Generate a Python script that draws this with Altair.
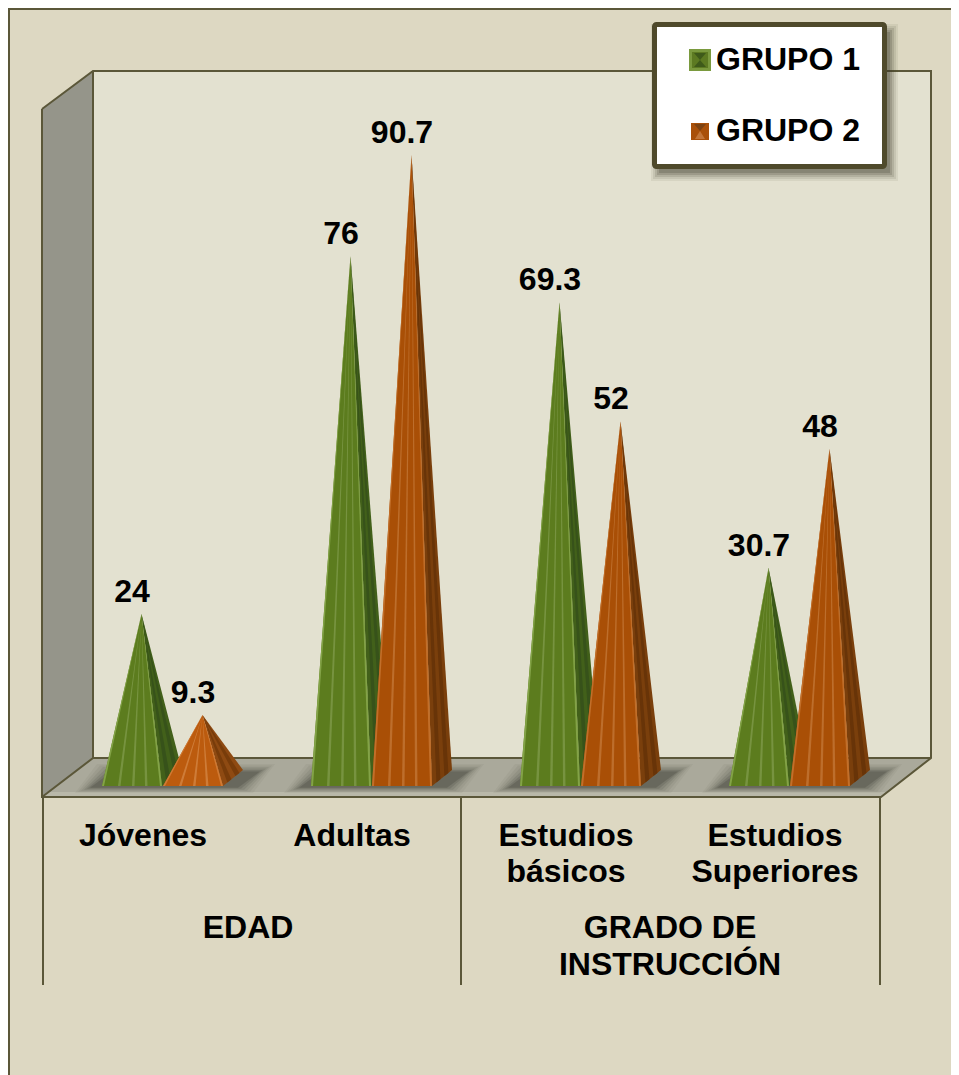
import altair as alt
import pandas as pd

categories = ["Jóvenes", "Adultas", "Estudios básicos", "Estudios Superiores"]
grupo_1 = [24, 76, 69.3, 30.7]
grupo_2 = [9.3, 90.7, 52, 48]
group_names = ["GRUPO 1", "GRUPO 2"]
category_lines = [["Jóvenes"], ["Adultas"], ["Estudios", "básicos"], ["Estudios", "Superiores"]]
parent_lines = [["EDAD"], ["GRADO DE", "INSTRUCCIÓN"]]

PX = 6.88
ZERO = 779.0
W, H = 943, 1067


def v(py):
    return (ZERO - py) / PX


def envelope(shape_id, pts, color, op=1.0):
    xs = sorted({p[0] for p in pts})
    rows = []
    n = len(pts)
    for x in xs:
        ys = []
        for i in range(n):
            (x0, y0), (x1, y1) = pts[i], pts[(i + 1) % n]
            if min(x0, x1) <= x <= max(x0, x1):
                if x0 == x1:
                    ys += [y0, y1]
                else:
                    ys.append(y0 + (y1 - y0) * (x - x0) / (x1 - x0))
        rows.append(dict(id=shape_id, x=x, y=max(ys), y2=min(ys), c=color, o=op))
    return rows


def P(*pts):
    return [(x, v(y)) for x, y in pts]


INK = "#5B5739"
back = []
back += envelope("a_back", P((93, 71), (931, 71), (931, 758), (93, 758)), "#E3E1D0")
back += envelope("b_left", P((42, 109), (93, 71), (93, 758), (42, 797)), "#95958A")
back += envelope("c_floor", P((42, 797), (93, 758), (931, 758), (881, 797)), "#AAA99B")
back += envelope("d_lip", P((42, 797), (47, 792), (886, 792), (881, 797)), "#B9B8A9")

x_starts = [103, 312, 521, 730]
for k, x0 in enumerate(x_starts):
    for j, (grow, op) in enumerate([(14, .05), (11, .07), (8, .09), (5, .12), (2, .16), (-1, .22)]):
        back += envelope(
            f"e{k}{j}",
            P((x0 - 14 - grow, 788 + grow * .35), (x0 + 8 - grow, 771 - grow * .5),
              (x0 + 158 + grow, 771 - grow * .5), (x0 + 136 + grow, 788 + grow * .35)),
            "#33332B", op)

outlines = [
    [(42, 109), (93, 71), (931, 71), (931, 758), (881, 797), (42, 797), (42, 109)],
    [(93, 71), (93, 758), (42, 797)],
    [(93, 758), (931, 758)],
    [(43, 797), (43, 985)],
    [(461, 797), (461, 985)],
    [(880, 797), (880, 985)],
    [(9, 1075), (9, 9), (951, 9)],
]
line_rows = []
for i, seg in enumerate(outlines):
    for j, (x, y) in enumerate(seg):
        line_rows.append(dict(id=i, i=j, x=x, y=v(y)))

STYLE = {
    0: dict(face="#5C7C1E", edge="#83A347", streak="#88A357", side="#42601A", side2="#37521A"),
    1: dict(face="#A94F06", edge="#C26F2A", streak="#CC8446", side="#7A3F0C", side2="#683408"),
}
SMALL = {1: dict(face="#BC5B0E", edge="#D07A34", streak="#DB9255", side="#8E4A12", side2="#783C0A")}

pyr = []
text_rows = []
for k, x0 in enumerate(x_starts):
    for g, val in enumerate([grupo_1[k], grupo_2[k]]):
        s = STYLE[g] if val > 15 or g == 0 else SMALL[g]
        left = x0 + 60 * g - (1 if g == 0 else 0)
        ax = left + 39.5
        apex = (ax, val)
        b_front = v(786)
        b_back = v(770)
        pid = f"{k}{g}"
        pyr += envelope(f"{pid}a", [apex, (left + 60, b_front), (left + 80, b_back)], s["side"])
        for i, (f0, f1) in enumerate([(.22, .42), (.62, .82)]):
            a = (left + 60 + 20 * f0, b_front + (b_back - b_front) * f0)
            b = (left + 60 + 20 * f1, b_front + (b_back - b_front) * f1)
            pyr += envelope(f"{pid}s{i}", [apex, a, b], s["side2"])
        pyr += envelope(f"{pid}f", [apex, (left, b_front), (left + 60, b_front)], s["face"])
        for i, off in enumerate([16, 30, 43]):
            pyr += envelope(f"{pid}t{i}", [apex, (left + off, b_front), (left + off + 2.5, b_front)], s["streak"], .6)
        pyr += envelope(f"{pid}e0", [apex, (left, b_front), (left + 2, b_front)], s["edge"])
        pyr += envelope(f"{pid}e1", [apex, (left + 58, b_front), (left + 60, b_front)], s["edge"])
        text_rows.append(dict(x=ax - 9.5, y=val + 12 / PX, t=f"{val:g}"))

cat_centers = [143, 352, 566, 775]
cat_rows = []
for cx, lines in zip(cat_centers, category_lines):
    for i, t in enumerate(lines):
        cat_rows.append(dict(x=cx, y=v(846 + 36 * i), t=t))
for cx, lines in zip([248, 670], parent_lines):
    for i, t in enumerate(lines):
        cat_rows.append(dict(x=cx, y=v(938 + 37 * i), t=t))

leg = []
for j, (grow, op) in enumerate([(6, .08), (4, .10), (2, .14), (0, .18), (-2, .22)]):
    leg += envelope(f"s{j}", P((657 - grow, 30 - grow), (892 + grow, 30 - grow),
                               (892 + grow, 175 + grow), (657 - grow, 175 + grow)), "#3B3A2A", op)

leg_rect = pd.DataFrame([dict(x=654.5, x2=884.5, y=v(24.5), y2=v(166.5))])

sym = []
sym += envelope("g0", P((689, 49), (711, 49), (711, 71), (689, 71)), "#7A9A3E")
sym += envelope("g1", P((692, 52), (708, 52), (708, 68), (692, 68)), "#5C7A22")
sym += envelope("g2", P((694, 53), (706, 53), (700, 60)), "#3E5A1A")
sym += envelope("g3", P((694, 67), (706, 67), (700, 60)), "#3E5A1A")
sym += envelope("o1", P((691, 123), (709, 123), (709, 140), (691, 140)), "#A9500A")
sym += envelope("o2", P((694, 124), (706, 124), (700, 131)), "#7C4212")
sym += envelope("o3", P((695, 139), (705, 139), (700, 131)), "#C2763A")

leg_text = pd.DataFrame([
    dict(x=716, y=v(70), t=group_names[0]),
    dict(x=716, y=v(141), t=group_names[1]),
])

X = alt.X("x:Q", axis=None, scale=alt.Scale(domain=[8, 8 + W], nice=False, zero=False))
Y = alt.Y("y:Q", axis=None, scale=alt.Scale(domain=[v(8 + H), v(8)], nice=False, zero=False))


def areas(rows):
    return alt.Chart(pd.DataFrame(rows)).mark_area(interpolate="linear", clip=False).encode(
        x=X, y=Y, y2="y2:Q",
        color=alt.Color("c:N", scale=None),
        opacity=alt.Opacity("o:Q", scale=None),
        detail="id:N",
    )


def texts(df, align="center"):
    return alt.Chart(df).mark_text(
        font="Liberation Sans", fontWeight="bold", fontSize=32, color="#000000",
        align=align, baseline="alphabetic",
    ).encode(x=X, y=Y, text="t:N")


lines = alt.Chart(pd.DataFrame(line_rows)).mark_line(color=INK, strokeWidth=2, interpolate="linear").encode(
    x=X, y=Y, detail="id:N", order="i:Q"
)

frame = alt.Chart(leg_rect).mark_rect(
    fill="#FFFFFF", stroke="#4F4A2B", strokeWidth=5, cornerRadius=2
).encode(x=X, x2="x2:Q", y=Y, y2="y2:Q")

chart = alt.layer(
    areas(back),
    lines,
    areas(pyr),
    texts(pd.DataFrame(text_rows)),
    texts(pd.DataFrame(cat_rows)),
    areas(leg),
    frame,
    areas(sym),
    texts(leg_text, "left"),
).properties(
    width=W, height=H, padding=0, background="#DDD8C2",
    autosize=alt.AutoSizeParams(type="none", contains="padding"),
).configure_view(stroke=None)

chart.save("out.html", embed_options={"renderer": "svg", "actions": False})
